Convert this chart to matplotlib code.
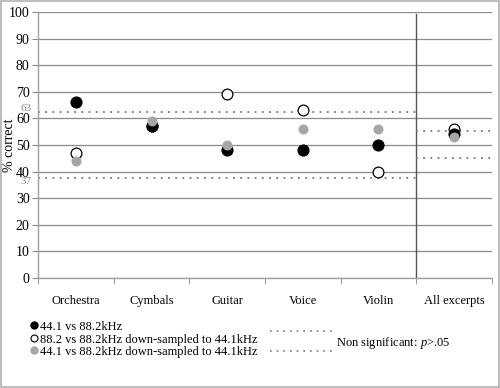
import matplotlib
matplotlib.use("Agg")
import matplotlib.pyplot as plt
from matplotlib.lines import Line2D
from matplotlib.patches import Rectangle

plt.rcParams['font.family'] = ['Liberation Serif', 'DejaVu Serif']
plt.rcParams['mathtext.fontset'] = 'custom'
plt.rcParams['mathtext.it'] = 'Liberation Serif:italic'
plt.rcParams['mathtext.rm'] = 'Liberation Serif'

categories = ["Orchestra", "Cymbals", "Guitar", "Voice", "Violin", "All excerpts"]
s_44_vs_88 = [66, 57, 48, 48, 50, 54]
s_88_vs_88ds = [47, 57, 69, 63, 40, 56]
s_44_vs_88ds = [44, 59, 50, 56, 56, 53]
labels = ["44.1 vs 88.2kHz",
          "88.2 vs 88.2kHz down-sampled to 44.1kHz",
          "44.1 vs 88.2kHz down-sampled to 44.1kHz"]
sig_excerpt = [62.5, 37.5]
sig_excerpt_labels = ["63", "37"]
sig_all = [55.3, 45.2]

fig = plt.figure(figsize=(5.0, 3.88), dpi=100)
ax = fig.add_axes([0.076, 0.2835, 0.908, 0.6855])

x = list(range(len(categories)))
ax.set_xlim(-0.5, 5.5)
ax.set_ylim(0, 100)
ax.set_yticks(range(0, 101, 10))
ax.grid(axis='y', color='#8c8c8c', linewidth=0.9)
ax.set_axisbelow(True)
ax.set_xticks(x)
ax.set_xticklabels(categories, fontsize=9)
ax.set_xticks([i - 0.5 for i in range(7)], minor=True)
ax.tick_params(axis='x', which='major', length=0, pad=12)
ax.tick_params(axis='x', which='minor', length=4, color='#8c8c8c', direction='out')
ax.tick_params(axis='y', length=4, color='#8c8c8c', labelsize=10, pad=2)
for s in ['top', 'right']:
    ax.spines[s].set_visible(False)
for s in ['left', 'bottom']:
    ax.spines[s].set_color('#a0a0a0')
    ax.spines[s].set_linewidth(1.0)
ax.set_ylabel("% correct", fontsize=10)
ax.yaxis.set_label_coords(-0.048, 0.5)

ax.axvline(4.5, color='#555555', linewidth=1.0, ymax=0.993, zorder=2)

for v in sig_excerpt:
    ax.plot([-0.5, 4.5], [v, v], color='#777777', linestyle=(0, (1, 3)), linewidth=1.3, zorder=2)
for v in sig_all:
    ax.plot([4.5, 5.5], [v, v], color='#777777', linestyle=(0, (1, 3)), linewidth=1.3, zorder=2)
offsets = [1.2, -1.2]
for v, t, o in zip(sig_excerpt, sig_excerpt_labels, offsets):
    ax.text(-0.59, v + o, t, fontsize=8, color='#888888', ha='right', va='center')

ax.scatter(x, s_88_vs_88ds, s=60, facecolor='white', edgecolor='black', linewidth=0.9, zorder=3)
ax.scatter(x, s_44_vs_88, s=60, color='black', zorder=4)
ax.scatter(x, s_44_vs_88ds, s=38, color='#a6a6a6', zorder=5)

# legend
ys = [0.157, 0.124, 0.092]
styles = [dict(marker='o', color='black', markerfacecolor='black', markersize=5),
          dict(marker='o', color='black', markerfacecolor='white', markersize=5, markeredgewidth=0.8),
          dict(marker='o', color='#a6a6a6', markerfacecolor='#a6a6a6', markersize=5)]
for yy, lab, st in zip(ys, labels, styles):
    fig.add_artist(Line2D([0.068], [yy + 0.006], transform=fig.transFigure, linestyle='none', **st))
    fig.text(0.08, yy, lab, fontsize=9, va='center', ha='left')

for yy in [0.146, 0.095]:
    fig.add_artist(Line2D([0.54, 0.665], [yy, yy], transform=fig.transFigure,
                          color='#777777', linestyle=(0, (1, 3)), linewidth=1.2))
fig.text(0.672, 0.116, "Non significant: $\\mathit{p}$>.05", fontsize=9, va='center', ha='left')

fig.add_artist(Rectangle((0.002, 0.002), 0.996, 0.996, transform=fig.transFigure,
                         fill=False, edgecolor='#b0b0b0', linewidth=1.2))

fig.savefig("out.png", dpi=100)
